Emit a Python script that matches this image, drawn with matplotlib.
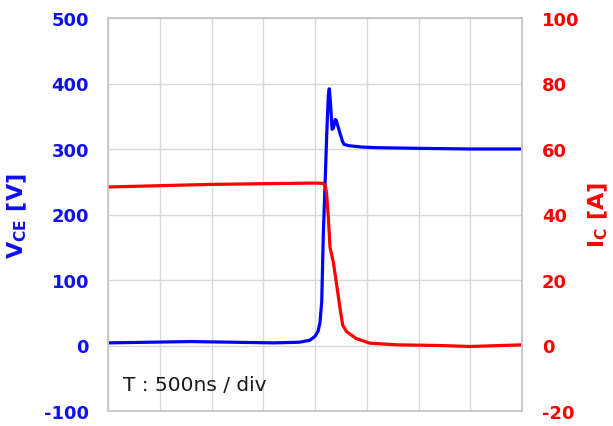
import matplotlib
matplotlib.use("Agg")
import matplotlib.pyplot as plt

plt.rcParams["axes.unicode_minus"] = False

# turn-off waveform, time in ns (500 ns / div, 8 divisions)
t_vce = [0, 400, 800, 1200, 1600, 1850, 1950, 2000, 2030, 2048, 2065, 2080, 2097,
         2113, 2129, 2138, 2150, 2165, 2178, 2195, 2205, 2230, 2265, 2280, 2330,
         2450, 2600, 3000, 3500, 4000]
vce = [4, 5, 6, 5, 4, 5, 8, 14, 22, 35, 67, 168, 245,
       321, 382, 392, 370, 330, 332, 345, 344, 330, 312, 307, 305,
       303, 302, 301, 300, 300]

t_ic = [0, 500, 1000, 1500, 2000, 2080, 2100, 2113, 2129, 2145, 2177, 2210,
        2242, 2268, 2306, 2400, 2530, 2800, 3200, 3500, 3800, 4000]
ic = [48.4, 48.8, 49.2, 49.4, 49.6, 49.5, 48.8, 46, 39, 30, 25.5, 18.4,
      11.3, 6.2, 4.2, 2.1, 0.7, 0.2, 0, -0.3, 0, 0.2]

v_ticks = [-100, 0, 100, 200, 300, 400, 500]
i_ticks = [-20, 0, 20, 40, 60, 80, 100]

blue = "#1010f0"
red = "#ff0000"

fig = plt.figure(figsize=(6.13, 4.27), dpi=100)
ax = fig.add_axes([108/613, 1-412/427, 414/613, 393/427])
ax2 = ax.twinx()

ax.plot(t_vce, vce, color="#0000ff", lw=2.3)
ax2.plot(t_ic, ic, color=red, lw=2.3)

ax.set_xlim(0, 4000)
ax.set_ylim(-100, 500)
ax2.set_ylim(-20, 100)
ax.set_xticks(range(0, 4001, 500))
ax.set_yticks(v_ticks)
ax2.set_yticks(i_ticks)
ax.set_xticklabels([])
ax.grid(True, color="#d9d9d9", lw=1.0)
ax.set_axisbelow(True)

ax.tick_params(axis="x", length=0)
ax.tick_params(axis="y", length=0, pad=13.7, labelsize=13, labelcolor=blue)
ax2.tick_params(axis="y", length=0, pad=14.4, labelsize=13, labelcolor=red)
for lab in ax.get_yticklabels():
    lab.set_fontweight("bold")
for lab in ax2.get_yticklabels():
    lab.set_fontweight("bold")

for a in (ax, ax2):
    for s in a.spines.values():
        s.set_color("#c8c8c8")
        s.set_linewidth(1.2)

fig.text(17/613, 1-216/427, r"V$_{\mathbf{CE}}$ [V]", color=blue, fontsize=16,
         fontweight="bold", rotation=90, ha="center", va="center")
fig.text(598/613, 1-215/427, r"I$_{\mathbf{C}}$ [A]", color=red, fontsize=16,
         fontweight="bold", rotation=90, ha="center", va="center")

ax.text(123/613, 1-386/427, "T : 500ns / div", transform=fig.transFigure,
        fontsize=14.5, color="#1a1a1a", ha="left", va="center")

plt.savefig("out.png", dpi=100)
